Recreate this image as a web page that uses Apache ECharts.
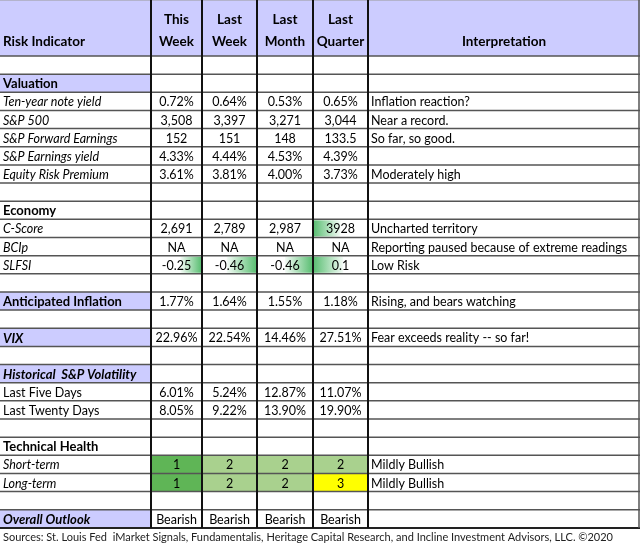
<!DOCTYPE html>
<html><head><meta charset="utf-8">
<script src="https://cdn.jsdelivr.net/npm/echarts@6/dist/echarts.min.js"></script>
<style>html,body{margin:0;padding:0;background:#fff}#c{width:640px;height:548px}</style>
</head><body><div id="c"></div>
<script>
// ---- data ----
var headers = ['Risk Indicator', 'This\nWeek', 'Last\nWeek', 'Last\nMonth', 'Last\nQuarter', 'Interpretation'];
var labels = ['', 'Valuation', 'Ten-year note yield', 'S&P 500', 'S&P Forward Earnings', 'S&P Earnings yield', 'Equity Risk Premium', '',
  'Economy', 'C-Score', 'BCIp', 'SLFSI', '', 'Anticipated Inflation', '', 'VIX', '', 'Historical  S&P Volatility',
  'Last Five Days', 'Last Twenty Days', '', 'Technical Health', 'Short-term', 'Long-term', '', 'Overall Outlook'];
var thisWeek  = ['', '', '0.72%', '3,508', '152', '4.33%', '3.61%', '', '', '2,691', 'NA', '-0.25', '', '1.77%', '', '22.96%', '', '', '6.01%', '8.05%', '', '', '1', '1', '', 'Bearish'];
var lastWeek  = ['', '', '0.64%', '3,397', '151', '4.44%', '3.81%', '', '', '2,789', 'NA', '-0.46', '', '1.64%', '', '22.54%', '', '', '5.24%', '9.22%', '', '', '2', '2', '', 'Bearish'];
var lastMonth = ['', '', '0.53%', '3,271', '148', '4.53%', '4.00%', '', '', '2,987', 'NA', '-0.46', '', '1.55%', '', '14.46%', '', '', '12.87%', '13.90%', '', '', '2', '2', '', 'Bearish'];
var lastQuarter = ['', '', '0.65%', '3,044', '133.5', '4.39%', '3.73%', '', '', '3928', 'NA', '0.1', '', '1.18%', '', '27.51%', '', '', '11.07%', '19.90%', '', '', '2', '3', '', 'Bearish'];
var interpretation = ['', '', 'Inflation reaction?', 'Near a record.', 'So far, so good.', '', 'Moderately high', '', '', 'Uncharted territory',
  'Reporting paused because of extreme readings', 'Low Risk', '', 'Rising, and bears watching', '', 'Fear exceeds reality -- so far!', '', '',
  '', '', '', '', 'Mildly Bullish', 'Mildly Bullish', '', ''];
// label style: n normal, i italic, b bold, bi bold italic; h = highlighted label
var labelStyle = ['n', 'bh', 'i', 'i', 'i', 'i', 'i', 'n', 'b', 'i', 'i', 'i', 'n', 'bh', 'n', 'bih', 'n', 'bih', 'n', 'n', 'n', 'b', 'i', 'i', 'n', 'bih'];
var scoreRows = [22, 23];
// data bars: [row, col, fraction, side]
var dataBars = [[9, 4, 0.5, 'L'], [11, 1, 0.42, 'R'], [11, 2, 0.55, 'R'], [11, 3, 0.5, 'R'], [11, 4, 0.55, 'L']];
var footer = 'Sources: St. Louis Fed  iMarket Signals, Fundamentalis, Heritage Capital Research, and Incline Investment Advisors, LLC. \u00a92020';

// ---- layout ----
var colX = [0, 151, 202, 257, 313, 368, 640];
var headH = 56, rowH = 18.15;
var nRows = labels.length;
function rowTop(r) { return headH + r * rowH; }
var FONT = 'Lato, "Open Sans", sans-serif';
var LAV = '#ccccff';
var valueCols = [thisWeek, lastWeek, lastMonth, lastQuarter];

var cells = [];
for (var c = 0; c < 6; c++) cells.push({ c: c, y0: 0, y1: headH, text: headers[c], fill: LAV, style: 'b', align: c === 0 ? 'left' : 'center', header: true });
for (var r = 0; r < nRows; r++) {
  var st = labelStyle[r];
  cells.push({ c: 0, y0: rowTop(r), y1: rowTop(r + 1), text: labels[r], fill: st.indexOf('h') >= 0 ? LAV : null, style: st.replace('h', ''), align: 'left', label: true });
  for (var k = 0; k < 4; k++) {
    var v = valueCols[k][r], fill = null;
    if (scoreRows.indexOf(r) >= 0) fill = v === '1' ? '#5fb556' : v === '2' ? '#a9d18e' : '#ffff00';
    cells.push({ c: k + 1, y0: rowTop(r), y1: rowTop(r + 1), text: v, fill: fill, style: 'n', align: 'center' });
  }
  cells.push({ c: 5, y0: rowTop(r), y1: rowTop(r + 1), text: interpretation[r], fill: null, style: 'n', align: 'left' });
}

var chart = echarts.init(document.getElementById('c'), null, { renderer: 'canvas' });

function fontOf(s, size) {
  var it = s.indexOf('i') >= 0 ? 'italic ' : '';
  var bd = s.indexOf('b') >= 0 ? 'bold ' : '';
  return it + bd + size + 'px ' + FONT;
}

chart.setOption({
  animation: false,
  grid: { left: 0, right: 0, top: 0, bottom: 0 },
  xAxis: { type: 'value', min: 0, max: 640, show: false },
  yAxis: { type: 'value', min: 0, max: 548, inverse: true, show: false },
  series: [
    {
      type: 'custom', data: cells.map(function (d, i) { return [i]; }),
      renderItem: function (params, api) {
        var d = cells[api.value(0)];
        var p0 = api.coord([colX[d.c], d.y0]), p1 = api.coord([colX[d.c + 1], d.y1]);
        var ch = [];
        if (d.fill) ch.push({ type: 'rect', shape: { x: p0[0], y: p0[1], width: p1[0] - p0[0], height: p1[1] - p0[1] }, style: { fill: d.fill } });
        dataBars.forEach(function (b) {
          if (!d.header && d.c === b[1] && Math.abs(d.y0 - rowTop(b[0])) < 0.01) {
            var w = (p1[0] - p0[0] - 2) * b[2];
            var x = b[3] === 'L' ? p0[0] + 1 : p1[0] - 1 - w;
            var grad = new echarts.graphic.LinearGradient(0, 0, 1, 0, b[3] === 'L'
              ? [{ offset: 0, color: '#5cbf74' }, { offset: 1, color: '#f4fbf6' }]
              : [{ offset: 0, color: '#f4fbf6' }, { offset: 1, color: '#5cbf74' }]);
            ch.push({ type: 'rect', shape: { x: x, y: p0[1] + 1, width: w, height: p1[1] - p0[1] - 2 }, style: { fill: grad } });
          }
        });
        if (d.text) {
          var tx = d.align === 'left' ? p0[0] + 3 : (p0[0] + p1[0]) / 2;
          var size = d.header ? 13.5 : (d.label && d.style.indexOf('b') >= 0 ? 13 : 12.5);
          ch.push({ type: 'text', style: {
            text: d.text, x: tx, y: d.header ? p1[1] - 3 : (p0[1] + p1[1]) / 2 + 1,
            align: d.align, verticalAlign: d.header ? 'bottom' : 'middle',
            font: fontOf(d.style, size), fill: '#000', lineHeight: 22 } });
        }
        return { type: 'group', children: ch };
      }
    },
    {
      type: 'custom',
      data: (function () {
        var a = [];
        a.push([0, 0, 640, 0, 1, '#999']);
        a.push([0, headH, 640, headH, 1.5, '#555']);
        for (var r = 1; r <= nRows; r++) a.push([0, rowTop(r), 640, rowTop(r), r === nRows ? 2 : 1.5, r === nRows ? '#222' : '#555']);
        for (var c = 1; c < colX.length - 1; c++) a.push([colX[c], 0, colX[c], rowTop(nRows), 2, '#111']);
        a.push([639, 0, 639, rowTop(nRows), 1.5, '#555']);
        return a;
      })(),
      renderItem: function (params, api) {
        var a = api.coord([api.value(0), api.value(1)]), b = api.coord([api.value(2), api.value(3)]);
        return { type: 'line', shape: { x1: a[0], y1: a[1], x2: b[0], y2: b[1] }, style: { stroke: api.value(5), lineWidth: api.value(4) } };
      },
      dimensions: ['x1', 'y1', 'x2', 'y2', 'w', { name: 'col', type: 'ordinal' }]
    }
  ],
  graphic: [{ type: 'text', left: 3, top: 532, style: { text: footer, font: '11px ' + FONT, fill: '#222' } }]
});
</script></body></html>
